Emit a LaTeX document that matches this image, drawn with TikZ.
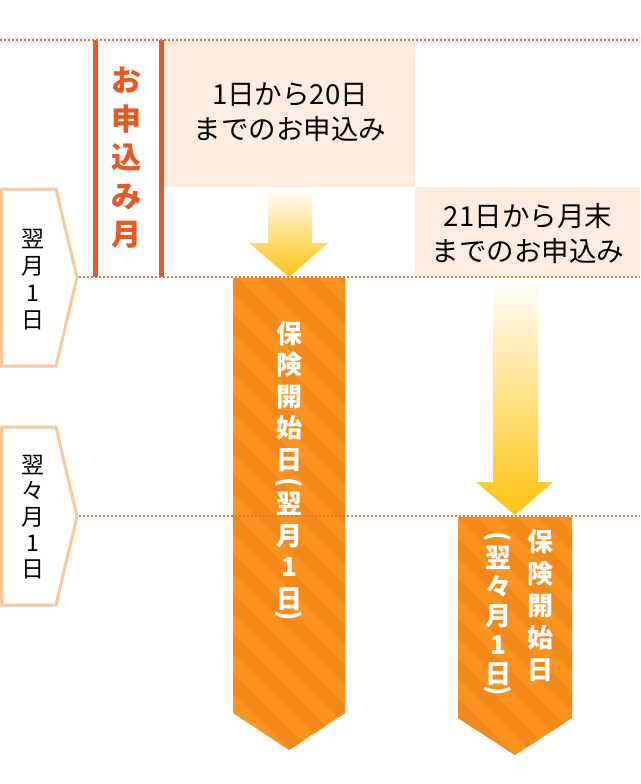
\documentclass[tikz,border=0pt]{standalone}
\usepackage{graphicx}
\usepackage{fontspec}
\setmainfont{Noto Sans CJK JP}

\definecolor{barorange}{RGB}{232, 88, 32}
\definecolor{dotorange}{RGB}{240, 110, 60}
\definecolor{peach}{RGB}{253, 237, 225}
\definecolor{tabline}{RGB}{252, 200, 155}
\definecolor{bannerorange}{RGB}{249, 147, 29}
\definecolor{bannerstripe}{RGB}{243, 137, 26}
\definecolor{arrowyellow}{RGB}{255, 194, 14}

\begin{document}
\begin{tikzpicture}[x=1pt,y=-1pt,
    dotline/.style={draw=dotorange, line width=2pt, dash pattern=on 2pt off 2pt},
    monthtab/.style={draw=tabline, line width=3pt, fill=white, line join=miter},
    stripeline/.style={draw=bannerstripe, line width=14pt},
    tate/.style={align=center, inner sep=0pt, anchor=north}]
        \useasboundingbox (0,0) rectangle (640,784);
        % application periods
        \fill[peach] (163,40) rectangle (415,187);
        \fill[peach] (415,187) rectangle (640,277);
        \fill[barorange] (93,40) rectangle (98,277);
        \fill[barorange] (159,40) rectangle (164,277);
        % arrows
        \shade[top color=white, bottom color=arrowyellow] (268,187) -- (312,187) -- (312,243) -- (328,243)
            -- (289,277) -- (249,243) -- (268,243) -- cycle;
        \shade[top color=white, bottom color=arrowyellow] (493,277) -- (538,277) -- (538,482) -- (553,482)
            -- (515,515) -- (476,482) -- (493,482) -- cycle;
        % banners
        \fill[bannerorange] (233,278) -- (345,278) -- (345,713) -- (289,750) -- (233,713) -- cycle;
        \begin{scope}
            \clip (233,278) -- (345,278) -- (345,713) -- (289,750) -- (233,713) -- cycle;
            \foreach \s in {-600,-560,...,360}
                \draw[stripeline] (\s,250) -- ++(520,520);
        \end{scope}
        \fill[bannerorange] (458,517) -- (572,517) -- (572,718) -- (515,755) -- (458,718) -- cycle;
        \begin{scope}
            \clip (458,517) -- (572,517) -- (572,718) -- (515,755) -- (458,718) -- cycle;
            \foreach \s in {-400,-360,...,580}
                \draw[stripeline] (\s,490) -- ++(300,300);
        \end{scope}
        % month tabs
        \draw[monthtab] (1.5,189) -- (56,189) -- (77,277.5) -- (56,366) -- (1.5,366) -- cycle;
        \draw[monthtab] (1.5,427) -- (56,427) -- (77,516.5) -- (56,605) -- (1.5,605) -- cycle;
        \draw[dotline] (0,40) -- (640,40);
        \draw[dotline] (79,277) -- (640,277);
        \draw[dotline] (79,516) -- (640,516);
        % texts
        \node[tate, barorange, font=\fontsize{30}{38.5}\selectfont\bfseries] (applymonth) at (126,67) {お\\申\\込\\み\\月};
        \node[align=center, font=\fontsize{27.5}{35}\selectfont] (early) at (290,112) {1日から20日\\までのお申込み};
        \node[align=center, font=\fontsize{27.5}{35}\selectfont] (late) at (528,234) {21日から月末\\までのお申込み};
        \node[tate, font=\fontsize{23}{27}\selectfont] (nextmonth) at (33,229) {翌\\月\\1\\日};
        \node[tate, font=\fontsize{23}{26}\selectfont] (monthafter) at (33,455) {翌\\々\\月\\1\\日};
        \node[tate, white, font=\fontsize{26}{31.5}\selectfont\bfseries] (startone) at (289,321)
            {保\\険\\開\\始\\日\\[-23pt]\rotatebox{-90}{(}\\[3pt]翌\\月\\1\\日\\[-29pt]\rotatebox{-90}{)}};
        \node[tate, white, font=\fontsize{26}{32}\selectfont\bfseries] (starttwo) at (540,529) {保\\険\\開\\始\\日};
        \node[tate, white, font=\fontsize{26}{29}\selectfont\bfseries] (starttwonote) at (498,531)
            {\rotatebox{-90}{(}\\[3pt]翌\\々\\月\\1\\日\\[-27pt]\rotatebox{-90}{)}};
\end{tikzpicture}
\end{document}
